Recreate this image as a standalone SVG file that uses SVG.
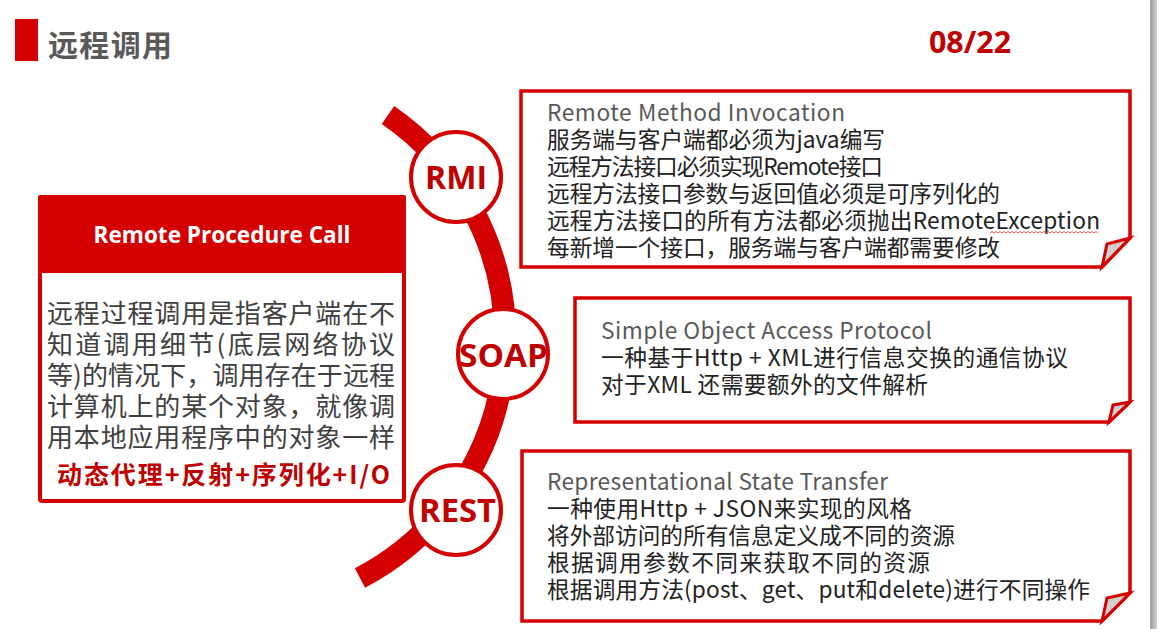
<svg xmlns="http://www.w3.org/2000/svg" width="1157" height="629" viewBox="0 0 1157 629">
<defs>
<linearGradient id="bar" x1="0" y1="0" x2="1" y2="0">
<stop offset="0" stop-color="#9c9c9c"/>
<stop offset="1" stop-color="#d0d0d0"/>
</linearGradient>
</defs>
<style>
.red{fill:#d40000}
.box{fill:#fff;stroke:#d40000;stroke-width:3.5;stroke-linejoin:miter}
.fold{fill:#d0d0d0;stroke:#d40000;stroke-width:3;stroke-linejoin:miter}
.node{fill:#fff;stroke:#d40000;stroke-width:4}
.lbl{font-family:"Open Sans","Noto Sans CJK SC",sans-serif;font-weight:bold;font-size:33px;fill:#c00000;text-anchor:middle}
.t{font-family:"Noto Sans CJK SC",sans-serif;font-size:22.7px;fill:#222}
.h{fill:#595959}
.body{font-family:"Noto Sans CJK SC",sans-serif;font-size:26px;fill:#404040}
</style>
<rect x="0" y="0" width="1157" height="629" fill="#fff"/>
<rect x="1150" y="0" width="7" height="629" fill="url(#bar)"/>

<g id="title">
<rect x="15" y="19" width="23" height="42" class="red"/>
<text x="48" y="56" font-family="Noto Sans CJK SC, sans-serif" font-weight="bold" font-size="30" fill="#595959" textLength="124">远程调用</text>
</g>
<g id="page">
<text x="929" y="53" font-family="Open Sans, sans-serif" font-weight="bold" font-size="30" fill="#c00000" textLength="82" lengthAdjust="spacingAndGlyphs">08/22</text>
</g>

<g id="connectors">
<path d="M388 115 A271 271 0 0 1 360 578" fill="none" stroke="#d40000" stroke-width="22"/>
</g>

<g id="rpc">
<rect x="40" y="197" width="364" height="304" rx="2" fill="#fff" stroke="#d40000" stroke-width="4"/>
<rect x="38" y="195" width="368" height="78" rx="2" class="red"/>
<text x="222" y="243" font-family="Open Sans, sans-serif" font-weight="bold" font-size="23" fill="#fff" text-anchor="middle" textLength="257" lengthAdjust="spacingAndGlyphs">Remote Procedure Call</text>
<text x="47" y="323" class="body" textLength="348">远程过程调用是指客户端在不</text>
<text x="47" y="354" class="body" textLength="348">知道调用细节(底层网络协议</text>
<text x="47" y="385" class="body" textLength="348">等)的情况下，调用存在于远程</text>
<text x="47" y="416" class="body" textLength="348">计算机上的某个对象，就像调</text>
<text x="47" y="447" class="body" textLength="348">用本地应用程序中的对象一样</text>
<text x="57" y="484" font-family="Noto Sans CJK SC, sans-serif" font-weight="bold" font-size="25" fill="#c00000" textLength="333">动态代理+反射+序列化+I/O</text>
</g>

<g id="rmi">
<circle cx="456" cy="177" r="45" class="node"/>
<text x="456" y="189" class="lbl" textLength="62" lengthAdjust="spacingAndGlyphs">RMI</text>
</g>
<g id="soap">
<circle cx="503" cy="354" r="45" class="node"/>
<text x="503.5" y="367" class="lbl" textLength="89" lengthAdjust="spacingAndGlyphs">SOAP</text>
</g>
<g id="rest">
<circle cx="456" cy="510" r="45" class="node"/>
<text x="457.5" y="522" class="lbl" textLength="77" lengthAdjust="spacingAndGlyphs">REST</text>
</g>

<g id="rmi-note">
<path d="M521 91 H1130 V238 L1102 267 H521 Z" class="box"/>
<path d="M1130 238 L1107 244 L1102 267 Z" class="fold"/>
<text x="547" y="121" class="t h" textLength="298">Remote Method Invocation</text>
<text x="547" y="148" class="t" textLength="338">服务端与客户端都必须为java编写</text>
<text x="547" y="175" class="t" textLength="336">远程方法接口必须实现Remote接口</text>
<text x="547" y="202" class="t" textLength="453">远程方法接口参数与返回值必须是可序列化的</text>
<text x="547" y="229" class="t" textLength="553">远程方法接口的所有方法都必须抛出RemoteException</text>
<text x="547" y="256" class="t" textLength="453">每新增一个接口，服务端与客户端都需要修改</text>
<path d="M990 233 l2 -1.5 l2 1.5 l2 -1.5 l2 1.5 l2 -1.5 l2 1.5 l2 -1.5 l2 1.5 l2 -1.5 l2 1.5 l2 -1.5 l2 1.5 l2 -1.5 l2 1.5 l2 -1.5 l2 1.5 l2 -1.5 l2 1.5 l2 -1.5 l2 1.5 l2 -1.5 l2 1.5 l2 -1.5 l2 1.5 l2 -1.5 l2 1.5 l2 -1.5 l2 1.5 l2 -1.5 l2 1.5 l2 -1.5 l2 1.5 l2 -1.5 l2 1.5 l2 -1.5 l2 1.5 l2 -1.5 l2 1.5 l2 -1.5 l2 1.5 l2 -1.5 l2 1.5 l2 -1.5 l2 1.5 l2 -1.5 l2 1.5 l2 -1.5 l2 1.5 l2 -1.5 l2 1.5 l2 -1.5 l2 1.5 l2 -1.5 l2 1.5" fill="none" stroke="#e03030" stroke-width="0.8"/>
</g>

<g id="soap-note">
<path d="M575 298 H1130 V402 L1109 422 H575 Z" class="box"/>
<path d="M1130 402 L1113 405 L1109 422 Z" class="fold"/>
<text x="601" y="339" class="t h" textLength="331">Simple Object Access Protocol</text>
<text x="601" y="366" class="t" textLength="467">一种基于Http + XML进行信息交换的通信协议</text>
<text x="601" y="393" class="t" textLength="327">对于XML 还需要额外的文件解析</text>
</g>

<g id="rest-note">
<path d="M522 451 H1130 V593 L1102 621 H522 Z" class="box"/>
<path d="M1130 593 L1107 598 L1102 621 Z" class="fold"/>
<text x="547" y="490" class="t h" textLength="341">Representational State Transfer</text>
<text x="547" y="517" class="t" textLength="365">一种使用Http + JSON来实现的风格</text>
<text x="547" y="544" class="t" textLength="408">将外部访问的所有信息定义成不同的资源</text>
<text x="547" y="571" class="t" textLength="383">根据调用参数不同来获取不同的资源</text>
<text x="547" y="598" class="t" textLength="543">根据调用方法(post、get、put和delete)进行不同操作</text>
</g>
</svg>
